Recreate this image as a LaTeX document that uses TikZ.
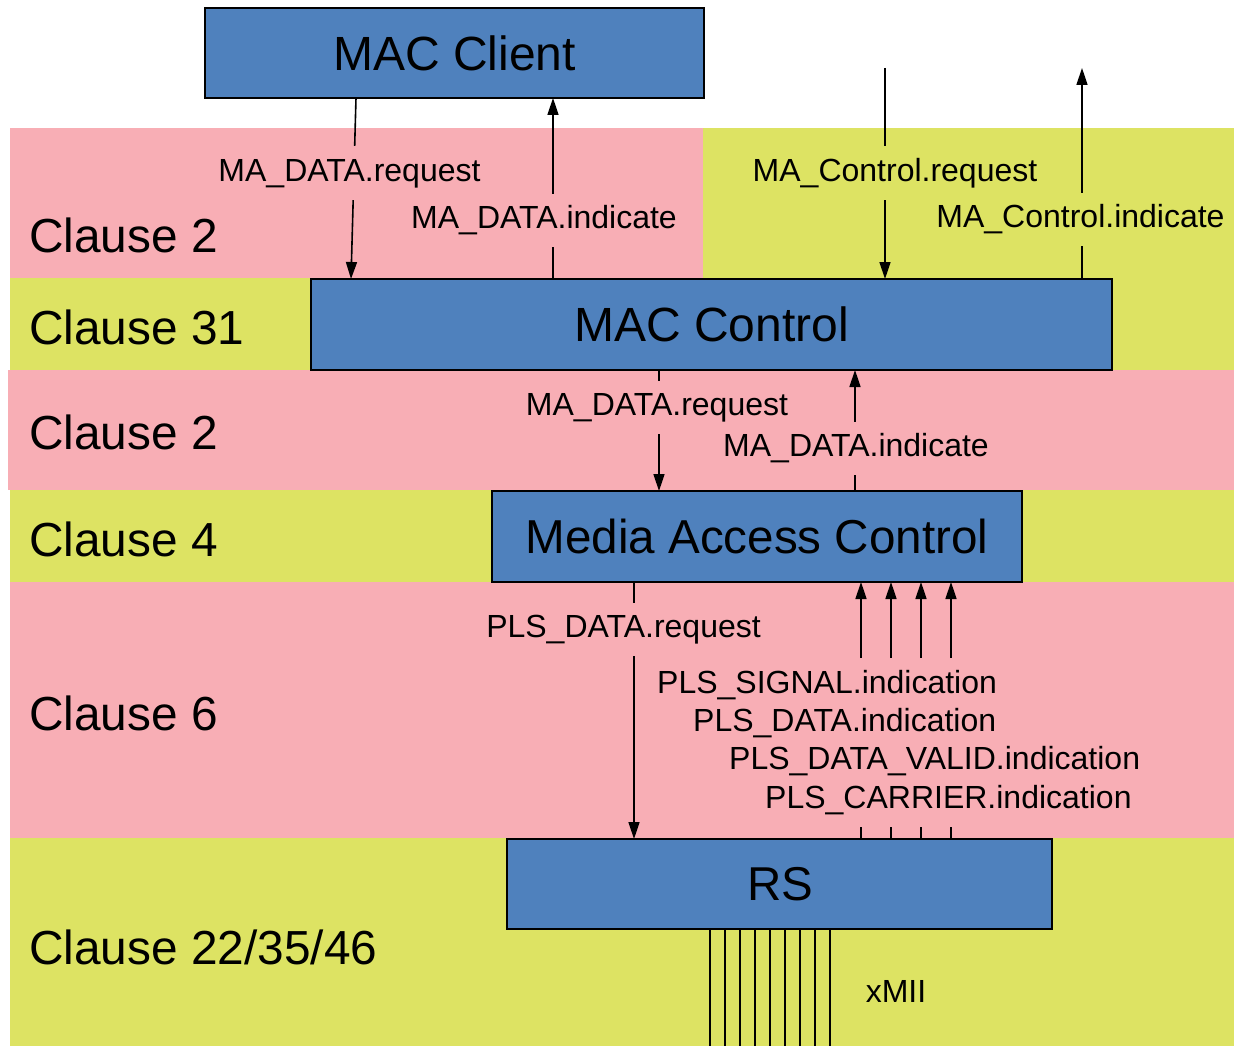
\documentclass[tikz,border=0pt]{standalone}
\usepackage{fontspec}
\setmainfont{Liberation Sans}
\usetikzlibrary{arrows.meta}
\definecolor{pinkband}{RGB}{248,174,181}
\definecolor{yellowband}{RGB}{221,227,99}
\definecolor{boxblue}{RGB}{79,129,189}
\begin{document}
\begin{tikzpicture}[x=1pt,y=-1pt,
  band/.style={fill=#1,draw=none},
  blk/.style={draw=black,line width=2pt,fill=boxblue,inner sep=0pt,outer sep=0pt,anchor=north west},
  clause/.style={anchor=west,inner sep=0pt,font=\fontsize{47.8}{50}\selectfont},
  sig/.style={line width=1.6pt},
  arr/.style={sig,-{Triangle[length=17pt,width=11pt]}},
  lbl/.style={fill=#1,inner xsep=2pt,inner ysep=12pt,text height=23pt,text depth=6pt,font=\fontsize{32}{38.3}\selectfont},
  thin/.style={line width=1.2pt}]
\useasboundingbox (0,0) rectangle (1234,1046);
% bands
\fill[band=pinkband] (10,128) rectangle (703,278);
\fill[band=yellowband] (703,128) rectangle (1234,278);
\fill[band=yellowband] (10,278) rectangle (1234,370);
\fill[band=pinkband] (8,370) rectangle (1234,490);
\fill[band=yellowband] (10,490) rectangle (1234,582);
\fill[band=pinkband] (10,582) rectangle (1234,838);
\fill[band=yellowband] (10,838) rectangle (1234,1046);
% clause labels
\node[clause] (cl1) at (29,235) {Clause 2};
\node[clause] (cl2) at (29,327) {Clause 31};
\node[clause] (cl3) at (29,432) {Clause 2};
\node[clause] (cl4) at (29,539) {Clause 4};
\node[clause] (cl5) at (29,713) {Clause 6};
\node[clause] (cl6) at (29,947) {Clause 22/35/46};
% blocks
\node[blk,minimum width=499pt,minimum height=90pt] (mcl) at (205,8) {};
\node[font=\fontsize{48}{50}\selectfont] (mclt) at (mcl.center) {MAC Client};
\node[blk,minimum width=801pt,minimum height=91pt] (mctl) at (311,279) {};
\node[font=\fontsize{48}{50}\selectfont] (mctlt) at (mctl.center) {MAC Control};
\node[blk,minimum width=530pt,minimum height=91pt] (mac) at (492,491) {};
\node[font=\fontsize{47.6}{50}\selectfont] (mact) at (mac.center) {Media Access Control};
\node[blk,minimum width=545pt,minimum height=90pt] (rs) at (507,839) {};
\node[font=\fontsize{47.5}{50}\selectfont] (rst) at ([xshift=1pt]rs.center) {RS};
% free ends
\coordinate (ctlreqtop) at (885,68);
\coordinate (ctlindtop) at (1082,68);
% connectors
\draw[arr] ([xshift=151pt]mcl.south west) -- ([xshift=40pt]mctl.north west);
\draw[arr] ([xshift=242pt]mctl.north west) -- ([xshift=348pt]mcl.south west);
\draw[arr] (ctlreqtop) -- ([xshift=574pt]mctl.north west);
\draw[arr] ([xshift=771pt]mctl.north west) -- (ctlindtop);
\draw[arr] ([xshift=348pt]mctl.south west) -- ([xshift=167pt]mac.north west);
\draw[arr] ([xshift=363pt]mac.north west) -- ([xshift=544pt]mctl.south west);
\draw[arr] ([xshift=142pt]mac.south west) -- ([xshift=127pt]rs.north west);
\foreach \i in {0,1,2,3}{
  \draw[arr] ([xshift={354pt+30pt*\i}]rs.north west) -- ([xshift={369pt+30pt*\i}]mac.south west);
}
\foreach \i in {0,...,8}{
  \coordinate (x\i) at ({710+15*\i},1046);
  \draw[thin] ([xshift={203pt+15pt*\i}]rs.south west) -- (x\i);
}
% signal labels
\node[lbl=pinkband] (l1) at (349.5,173) {MA\_DATA.request};
\node[lbl=pinkband] (l2) at (544,220) {MA\_DATA.indicate};
\node[lbl=yellowband] (l3) at (895,173) {MA\_Control.request};
\node[lbl=yellowband] (l4) at (1080.5,219) {MA\_Control.indicate};
\node[lbl=pinkband] (l5) at (657,407) {MA\_DATA.request};
\node[lbl=pinkband] (l6) at (856,448) {MA\_DATA.indicate};
\node[lbl=pinkband] (l7) at (623.5,629) {PLS\_DATA.request};
\node[fill=pinkband,inner xsep=2pt,inner ysep=12pt,align=left,anchor=north west,
      font=\fontsize{32}{38.3}\selectfont] (lpls) at (655,658)
  {PLS\_SIGNAL.indication\\
   \hspace*{36pt}PLS\_DATA.indication\\
   \hspace*{72pt}PLS\_DATA\_VALID.indication\\
   \hspace*{108pt}PLS\_CARRIER.indication};
\node[font=\fontsize{32}{34}\selectfont,inner sep=0pt] (xmii) at (896,991) {xMII};
\end{tikzpicture}
\end{document}
